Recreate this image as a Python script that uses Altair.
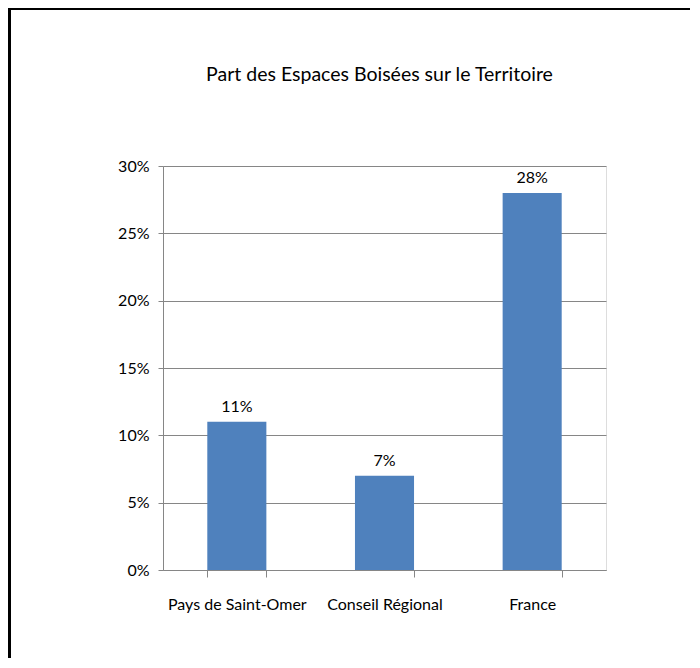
import altair as alt
import pandas as pd

categories = ["Pays de Saint-Omer", "Conseil Régional", "France"]
values = [0.11, 0.07, 0.28]
value_labels = ["11%", "7%", "28%"]
title_text = "Part des Espaces Boisées sur le Territoire"
y_ticks = [0, 0.05, 0.10, 0.15, 0.20, 0.25, 0.30]

df = pd.DataFrame({"cat": categories, "val": values, "lab": value_labels})

FONT = "Lato"
GRID = "#868686"
W, H = 443, 404

xscale = alt.Scale(domain=categories, paddingInner=0.6, paddingOuter=0.3)
yscale = alt.Scale(domain=[0, 0.30], nice=False)

x_enc = alt.X(
    "cat:N", scale=xscale, sort=categories,
    axis=alt.Axis(
        title=None, labelAngle=0, tickBand="extent", ticks=True, tickSize=7,
        tickColor=GRID, domainColor=GRID, labelFontSize=16, labelFont=FONT,
        labelColor="black", labelPadding=19, grid=False,
    ),
)
y_enc = alt.Y(
    "val:Q", scale=yscale,
    axis=alt.Axis(
        title=None, format=".0%", values=y_ticks, grid=True, gridColor=GRID,
        gridOpacity=1, tickColor=GRID, tickSize=5, domainColor=GRID,
        labelFontSize=16, labelFont=FONT, labelColor="black", labelPadding=9,
    ),
)

base = alt.Chart(df)
bars = base.mark_bar(color="#4F81BD").encode(x=x_enc, y=y_enc)
texts = base.mark_text(dy=-15, fontSize=16, font=FONT, color="black").encode(
    x=alt.X("cat:N", scale=xscale, sort=categories),
    y=alt.Y("val:Q", scale=yscale),
    text="lab:N",
)

frame_top = base.mark_rule(color="black", strokeWidth=2).encode(
    x=alt.value(-156), x2=alt.value(560), y=alt.value(-157)
)
frame_left = base.mark_rule(color="black", strokeWidth=3).encode(
    x=alt.value(-153.5), y=alt.value(-158), y2=alt.value(520)
)

chart = (
    alt.layer(bars, texts, frame_top, frame_left)
    .properties(
        width=W, height=H,
        title=alt.TitleParams(
            title_text, fontSize=19.5, font=FONT, fontWeight="normal",
            color="black", anchor="middle", frame="group", offset=-79, dx=-5,
        ),
        autosize="none",
        padding={"left": 155, "top": 158, "right": 84, "bottom": 88},
    )
    .configure_view(stroke=None)
    .configure(background="white")
)

chart.save("out.html", embed_options={"renderer": "svg", "actions": False})
